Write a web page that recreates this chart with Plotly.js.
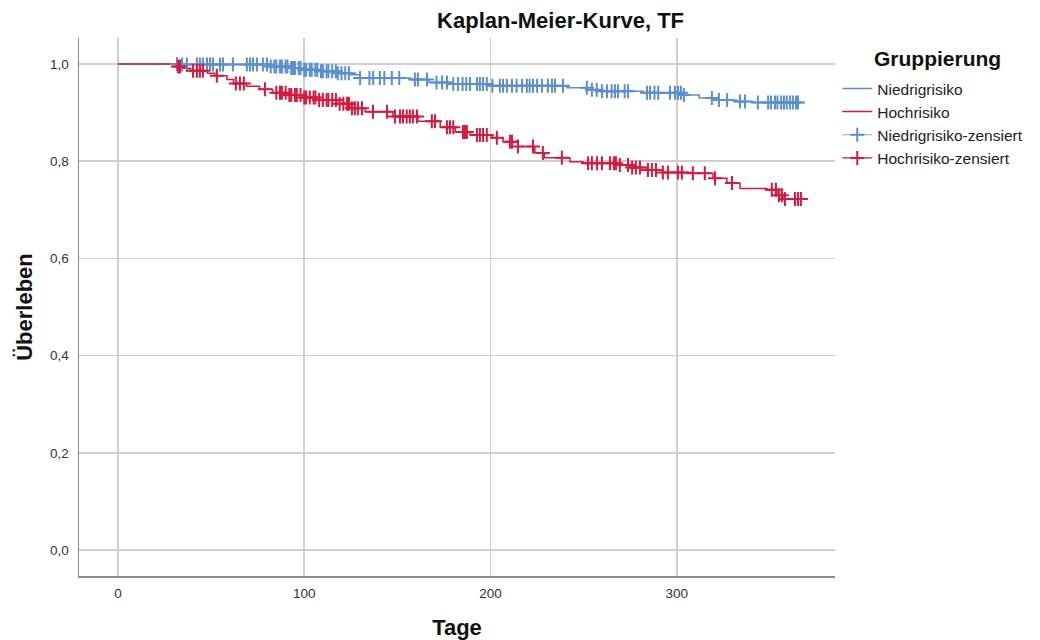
<!DOCTYPE html>
<html>
<head>
<meta charset="utf-8">
<script src="https://cdn.plot.ly/plotly-3.0.1.min.js"></script>
<style>html,body{margin:0;padding:0;background:#fff;}#chart{width:1040px;height:640px;}</style>
</head>
<body>
<div id="chart"></div>
<script>
// Niedrigrisiko: event times and survival after each event
var lowTimes = [0, 32, 82, 92, 99, 108, 118, 125, 130, 157, 167, 180, 201, 241, 252, 259, 282, 303, 312, 319, 332, 341, 366];
var lowSurv  = [1.0, 0.999, 0.995, 0.992, 0.988, 0.985, 0.981, 0.978, 0.971, 0.968, 0.962, 0.959, 0.955, 0.951, 0.947, 0.944, 0.941, 0.936, 0.930, 0.926, 0.923, 0.921, 0.921];
// Hochrisiko
var highTimes = [0, 32, 35, 39, 48, 52, 58.5, 62, 69, 76, 83, 91, 99, 108, 117.5, 124.5, 132.6, 147.6, 161, 173, 181, 189, 201, 206.7, 214.7, 223.8, 229, 242.6, 249.6, 267.9, 274.8, 284, 292.5, 308.6, 319.4, 326.9, 333.9, 348.4, 353.7, 357, 367];
var highSurv  = [1.0, 0.995, 0.991, 0.986, 0.981, 0.976, 0.968, 0.960, 0.954, 0.948, 0.941, 0.936, 0.931, 0.926, 0.918, 0.909, 0.902, 0.892, 0.882, 0.870, 0.860, 0.854, 0.848, 0.840, 0.830, 0.817, 0.807, 0.799, 0.796, 0.792, 0.787, 0.782, 0.777, 0.775, 0.765, 0.755, 0.744, 0.741, 0.730, 0.722, 0.722];
// censored observation times
var lowCensor = [31.7, 34.4, 37, 42.4, 44, 45.6, 47.8, 49.4, 51, 54.8, 56.4, 61.7, 69.2, 70.9, 72.5, 74.6, 77.8, 80,
  82, 84, 85, 87, 88, 90, 91, 93, 94, 95, 97, 98, 100, 101, 103, 104, 106, 107, 109, 110, 112, 113, 115, 117, 118, 120, 122, 124,
  130, 135, 137, 140.6, 143, 147, 151, 159.4, 161, 165.9, 171, 174, 176.6, 180, 182.5, 185, 187, 189, 192.7, 194.3, 196, 198,
  201, 205, 206.7, 208.8, 211.5, 214, 216.9, 219.5, 221, 222.8, 225, 227.6, 230.8, 233, 234.6, 238.9, 251.7, 254.4, 257, 259.8,
  262.5, 265, 266.8, 268.4, 272, 273.8, 284, 285.6, 288, 290, 296.3, 299, 300.6, 302.2, 303.8, 318.8, 322.6, 327, 333.9, 336.6,
  343.5, 349, 350.5, 352.7, 354, 356, 357.5, 359, 360.7, 362.3, 364, 365];
var highCensor = [32.2, 33.3, 40.3, 42.4, 44, 45.6, 53.1, 63.3, 65.5, 67.6, 78.9,
  85, 87, 88, 90, 92, 93, 95, 96, 98, 100, 101, 103, 105, 106, 108, 110, 112, 113, 115, 117, 119, 121, 123, 124,
  125.6, 127.2, 128.8, 131, 136.9, 144.4, 148.7, 151.4, 153, 155, 156.7, 158.3, 160.5, 168.5, 170.2, 176.6, 178.2, 180,
  185.2, 186.3, 187.3, 192.7, 194.3, 196, 198, 203.4, 210.4, 211.5, 214.7, 222.8, 228.1, 238.3, 252.3, 254.4, 257.1, 259.8,
  264.1, 266.2, 267.3, 269.4, 273.8, 276, 278, 280.2, 284.5, 286.6, 288.8, 292.5, 295.2, 300.6, 302.7, 308.6, 315, 320.5,
  329.6, 351, 353.2, 354.8, 356.4, 358, 363.4, 365, 366.6];
var groupNames = ['Niedrigrisiko', 'Hochrisiko', 'Niedrigrisiko-zensiert', 'Hochrisiko-zensiert'];
var legendTitle = 'Gruppierung';
var xTicks = [0, 100, 200, 300];
var yTicks = [0, 0.2, 0.4, 0.6, 0.8, 1.0];

var blue = '#5b8fd1', red = '#d7193f';

function survAt(times, surv, t) {
  var v = surv[0];
  for (var i = 0; i < times.length; i++) { if (times[i] <= t) v = surv[i]; }
  return v;
}
function censorXY(ct, times, surv) {
  var x = [], y = [];
  ct.forEach(function (t) { x.push(t, null); y.push(survAt(times, surv, t), null); });
  return {x: x, y: y};
}
var lc = censorXY(lowCensor, lowTimes, lowSurv);
var hc = censorXY(highCensor, highTimes, highSurv);

var traces = [
  {x: lowTimes, y: lowSurv, name: groupNames[0], mode: 'lines', line: {shape: 'hv', color: blue, width: 1.5}, hoverinfo: 'skip'},
  {x: highTimes, y: highSurv, name: groupNames[1], mode: 'lines', line: {shape: 'hv', color: red, width: 1.5}, hoverinfo: 'skip'},
  {x: lc.x, y: lc.y, name: groupNames[2], mode: 'lines+markers', connectgaps: false,
   line: {color: '#86abdd', width: 1.2},
   marker: {symbol: 'cross-thin', size: 10, color: blue, line: {color: blue, width: 2}}, hoverinfo: 'skip'},
  {x: hc.x, y: hc.y, name: groupNames[3], mode: 'lines+markers', connectgaps: false,
   line: {color: red, width: 1.2},
   marker: {symbol: 'cross-thin', size: 10, color: red, line: {color: red, width: 2}}, hoverinfo: 'skip'}
];

var layout = {
  width: 1040, height: 640,
  margin: {l: 79, r: 205, t: 38, b: 64, autoexpand: false},
  paper_bgcolor: '#fff', plot_bgcolor: '#fff',
  separators: ',.',
  font: {family: 'Liberation Sans, Arial, sans-serif', size: 13, color: '#333'},
  title: {text: '<b>Kaplan-Meier-Kurve, TF</b>', x: 0.539, xref: 'container', xanchor: 'center', y: 0.969, yref: 'container', yanchor: 'middle',
          font: {size: 22, color: '#111', family: 'Liberation Sans, Arial, sans-serif'}},
  xaxis: {range: [-20.9, 384.9], tickvals: xTicks, ticktext: xTicks.map(String), showgrid: true, gridcolor: '#cfcfcf', gridwidth: 1.5,
          zeroline: false, showline: true, linecolor: '#8c8c8c', linewidth: 1.5, ticks: '', ticklabelstandoff: 4,
          tickfont: {size: 13.5, color: '#333'},
          title: {text: '<b>Tage</b>', font: {size: 22, color: '#111'}, standoff: 28}},
  yaxis: {range: [-0.0535, 1.0535], tickvals: yTicks, tickformat: '.1f', showgrid: true, gridcolor: '#cfcfcf', gridwidth: 1.5,
          zeroline: false, showline: true, linecolor: '#8c8c8c', linewidth: 1.5, ticks: '', ticklabelstandoff: 6,
          tickfont: {size: 13.5, color: '#333'},
          title: {text: '<b>Überleben</b>', font: {size: 22, color: '#111'}, standoff: 11}},
  showlegend: true,
  legend: {x: 1.003, xanchor: 'left', y: 0.937, yanchor: 'top', bgcolor: 'rgba(0,0,0,0)',
           font: {size: 15.5, color: '#222'}, tracegroupgap: 0, itemwidth: 30},
  annotations: [{text: '<b>' + legendTitle + '</b>', xref: 'paper', yref: 'paper', x: 1.135, y: 0.9628,
                 xanchor: 'center', yanchor: 'middle', showarrow: false, font: {size: 21, color: '#111'}}]
};

Plotly.newPlot('chart', traces, layout, {displayModeBar: false, staticPlot: true});
</script>
</body>
</html>
